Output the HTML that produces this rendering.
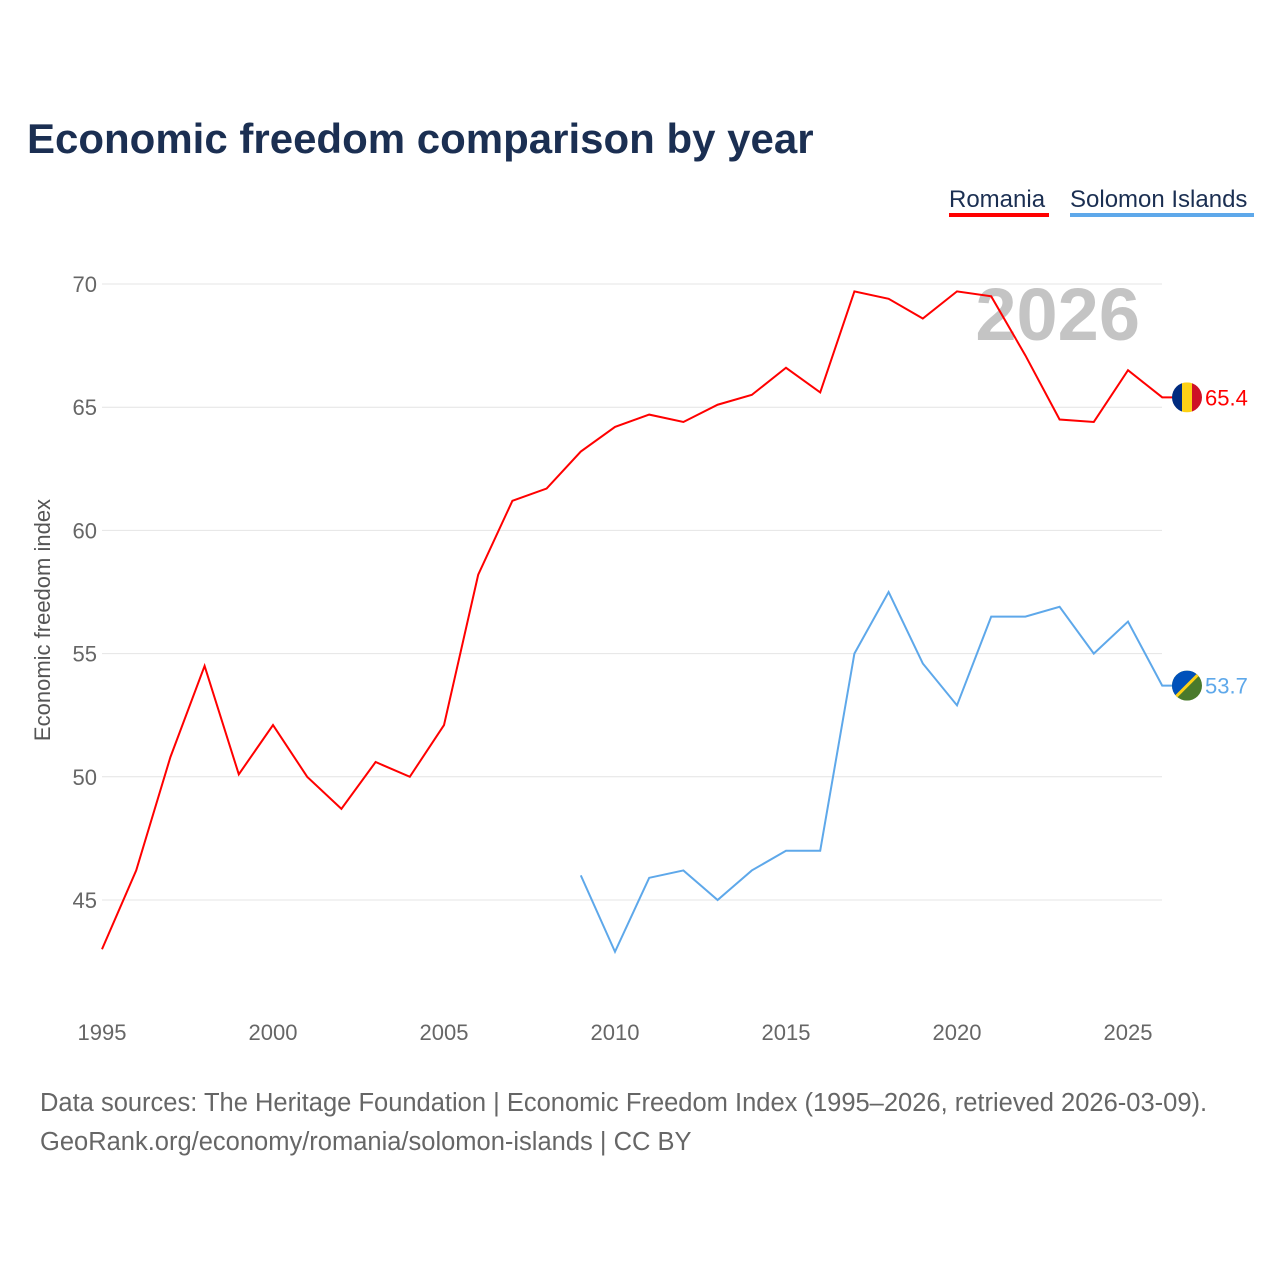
<!DOCTYPE html>
<html><head><meta charset="utf-8"><style>
body{margin:0;background:#fff;font-family:"Liberation Sans",sans-serif;}
</style></head><body>
<svg width="1280" height="1280" viewBox="0 0 1280 1280" xmlns="http://www.w3.org/2000/svg">
<defs></defs>
<text x="27" y="153" font-size="42" font-weight="bold" fill="#1b2f52">Economic freedom comparison by year</text>
<g>
<text x="949" y="207" font-size="24" fill="#1b2f52">Romania</text>
<rect x="949" y="213" width="100" height="4" fill="#f00"/>
<text x="1070" y="207" font-size="24" fill="#1b2f52">Solomon Islands</text>
<rect x="1070" y="213" width="184" height="4" fill="#5ea8ea"/>
</g>
<text x="1140" y="340" font-size="74" font-weight="bold" fill="#c4c4c4" text-anchor="end">2026</text>
<g id="grid"></g><g id="xt"></g>
<text transform="translate(50,620) rotate(-90)" font-size="22" fill="#555" text-anchor="middle">Economic freedom index</text>
<g id="series"></g>
<text x="40" y="1111" font-size="25.5" fill="#666">Data sources: The Heritage Foundation | Economic Freedom Index (1995–2026, retrieved 2026-03-09).</text>
<text x="40" y="1150" font-size="25.5" fill="#666">GeoRank.org/economy/romania/solomon-islands | CC BY</text>
</svg>
<script>
const years=[1995,1996,1997,1998,1999,2000,2001,2002,2003,2004,2005,2006,2007,2008,2009,2010,2011,2012,2013,2014,2015,2016,2017,2018,2019,2020,2021,2022,2023,2024,2025,2026];
const romania=[43.0,46.2,50.8,54.5,50.1,52.1,50.0,48.7,50.6,50.0,52.1,58.2,61.2,61.7,63.2,64.2,64.7,64.4,65.1,65.5,66.6,65.6,69.7,69.4,68.6,69.7,69.5,67.1,64.5,64.4,66.5,65.4];
const solomonYears=[2009,2010,2011,2012,2013,2014,2015,2016,2017,2018,2019,2020,2021,2022,2023,2024,2025,2026];
const solomon=[46.0,42.9,45.9,46.2,45.0,46.2,47.0,47.0,55.0,57.5,54.6,52.9,56.5,56.5,56.9,55.0,56.3,53.7];
const yTicks=[45,50,55,60,65,70];
const xTicks=[1995,2000,2005,2010,2015,2020,2025];
const NS="http://www.w3.org/2000/svg";
const X=y=>102+(y-1995)*(1026/30);
const Y=v=>284+(70-v)*(616/25);
function mk(t,a,p){const e=document.createElementNS(NS,t);for(const k in a)e.setAttribute(k,a[k]);p.appendChild(e);return e;}
const grid=document.getElementById('grid');
yTicks.forEach(v=>{
 const l=mk('line',{x1:102,x2:1162,y1:Y(v),y2:Y(v),stroke:'#e4e4e4','stroke-width':1},grid);
 
 
 const t=mk('text',{x:97,y:Y(v)+8,'font-size':22,fill:'#666','text-anchor':'end'},grid);
 t.textContent=v;
 
 
});
const xt=document.getElementById('xt');
xTicks.forEach(v=>{
 const t=mk('text',{x:X(v),y:1040,'font-size':22,fill:'#666','text-anchor':'middle'},xt);
 t.textContent=v;
 
 
});
const sg=document.getElementById('series');
function line(xs,vs,c,name){
 const d=xs.map((y,i)=>(i?'L':'M')+X(y)+','+Y(vs[i])).join(' ')+' H1175';
 const p=mk('path',{d:d,fill:'none',stroke:c,'stroke-width':2},sg);
 
 
 const last=vs[vs.length-1];
 const t=mk('text',{x:1205,y:Y(last)+8,'font-size':22,fill:c},sg);
 t.textContent=last.toFixed(1);
 
 
 return Y(last);
}
const ry=line(years,romania,'#f00','romania');
const sy=line(solomonYears,solomon,'#5ea8ea','solomon-islands');
const defs=document.querySelector('defs');
const c1=mk('clipPath',{id:'cr'},defs);mk('circle',{cx:1187,cy:ry,r:15},c1);
const c2=mk('clipPath',{id:'cs'},defs);mk('circle',{cx:1187,cy:sy,r:15},c2);
const fr=mk('g',{'clip-path':'url(#cr)'},sg);


mk('rect',{x:1172,y:ry-15,width:10,height:30,fill:'#002b7f'},fr);
mk('rect',{x:1182,y:ry-15,width:10,height:30,fill:'#fcd116'},fr);
mk('rect',{x:1192,y:ry-15,width:10,height:30,fill:'#ce1126'},fr);
const fs=mk('g',{'clip-path':'url(#cs)'},sg);


mk('rect',{x:1172,y:sy-15,width:30,height:30,fill:'#4a7a2c'},fs);
mk('path',{d:`M1172,${sy+15} L1172,${sy-15} L1202,${sy-15} Z`,fill:'#0051ba'},fs);
mk('path',{d:`M1170,${sy+17} L1204,${sy-17}`,stroke:'#fcd116','stroke-width':3},fs);
</script>
</body></html>
